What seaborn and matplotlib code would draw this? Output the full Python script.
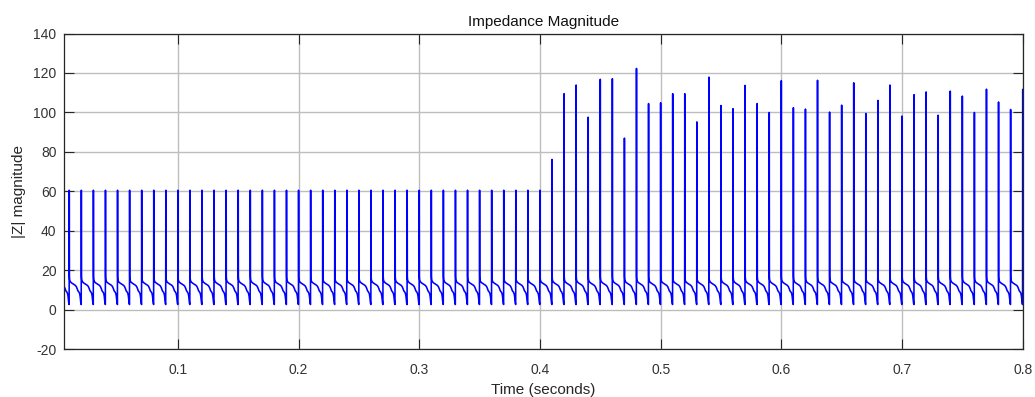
import numpy as np
import pandas as pd
import matplotlib
matplotlib.use("Agg")
import matplotlib.pyplot as plt
import seaborn as sns

# Switching period of the impedance signal (s)
PERIOD = 0.01

# Spike instants and their peak |Z| values
spike_times = np.round(np.arange(1, 81) * PERIOD, 2)
peaks_low = [60.6] * 40  # 0.01 s ... 0.40 s
peaks_high = [                                      # 0.41 s ... 0.80 s
    76.2, 109.5, 113.9, 97.6, 116.8, 117.1, 87.0, 122.3, 104.5, 104.9,
    109.5, 109.5, 95.2, 117.9, 103.5, 101.9, 113.7, 104.5, 100.0, 116.1,
    102.4, 101.7, 116.3, 100.2, 103.7, 115.0, 99.5, 106.1, 113.9, 98.2,
    109.0, 110.4, 98.6, 110.8, 108.3, 100.0, 111.8, 105.3, 101.5, 111.7,
]
spike_peaks = np.array(peaks_low + peaks_high)

# Shape of one cycle after a spike: fraction of the period and |Z| value
cycle_phase = np.array([0.004, 0.012, 0.03, 0.08, 0.2, 0.35, 0.5, 0.58,
                        0.65, 0.72, 0.8, 0.86, 0.9, 0.93, 0.96, 0.99])
cycle_value = np.array([22.0, 17.0, 15.3, 14.3, 13.6, 13.0, 12.4, 11.8,
                        10.8, 9.6, 9.0, 8.2, 6.8, 4.8, 3.3, 2.7])

# Assemble the trace vertex by vertex
t_pts, z_pts = [], []
lead = cycle_phase >= 0.5
t_pts += list(cycle_phase[lead] * PERIOD)
z_pts += list(cycle_value[lead])
for i, (ts, pk) in enumerate(zip(spike_times, spike_peaks)):
    t_pts.append(ts)
    z_pts.append(pk)
    if i < len(spike_times) - 1:
        t_pts += list(ts + cycle_phase * PERIOD)
        z_pts += list(cycle_value)

df = pd.DataFrame({"Time (seconds)": t_pts, "|Z| magnitude": z_pts})

sns.set_style("white")
plt.rcParams["font.family"] = ["Liberation Sans", "DejaVu Sans"]
plt.rcParams["axes.unicode_minus"] = False

AX_COLOR = "#262626"
fig = plt.figure(figsize=(10.35, 3.97), dpi=100)
fig.patch.set_facecolor("white")
ax = fig.add_axes([0.0618, 0.1201, 0.9263, 0.7955])

ax.set_axisbelow(True)
ax.grid(True, color="#bdbdbd", linewidth=1.0)

sns.lineplot(data=df, x="Time (seconds)", y="|Z| magnitude", ax=ax,
             color="#0000ff", linewidth=1.15, estimator=None, sort=False)

ax.set_xlim(0.0056, 0.8)
ax.set_ylim(-20, 140)
ax.set_xticks(np.round(np.arange(0.1, 0.81, 0.1), 1))
ax.set_xticklabels(["0.1", "0.2", "0.3", "0.4", "0.5", "0.6", "0.7", "0.8"])
ax.set_yticks(np.arange(-20, 141, 20))

for side in ["top", "right", "bottom", "left"]:
    ax.spines[side].set_visible(True)
    ax.spines[side].set_color(AX_COLOR)
    ax.spines[side].set_linewidth(0.9)

ax.tick_params(axis="both", which="major", direction="in", length=6.9,
               width=0.8, color=AX_COLOR, labelcolor="#333333", labelsize=10,
               top=True, right=True, bottom=True, left=True)
ax.tick_params(axis="x", pad=9.5)
ax.tick_params(axis="y", pad=5.3)

ax.set_xlabel("Time (seconds)", fontsize=11, color=AX_COLOR, labelpad=4.5)
ax.set_ylabel("|Z| magnitude", fontsize=11, color=AX_COLOR, labelpad=5.0)
ax.set_title("Impedance Magnitude", fontsize=11, color="#111111", pad=5.5)

fig.savefig("out.png", dpi=100, facecolor="white")
